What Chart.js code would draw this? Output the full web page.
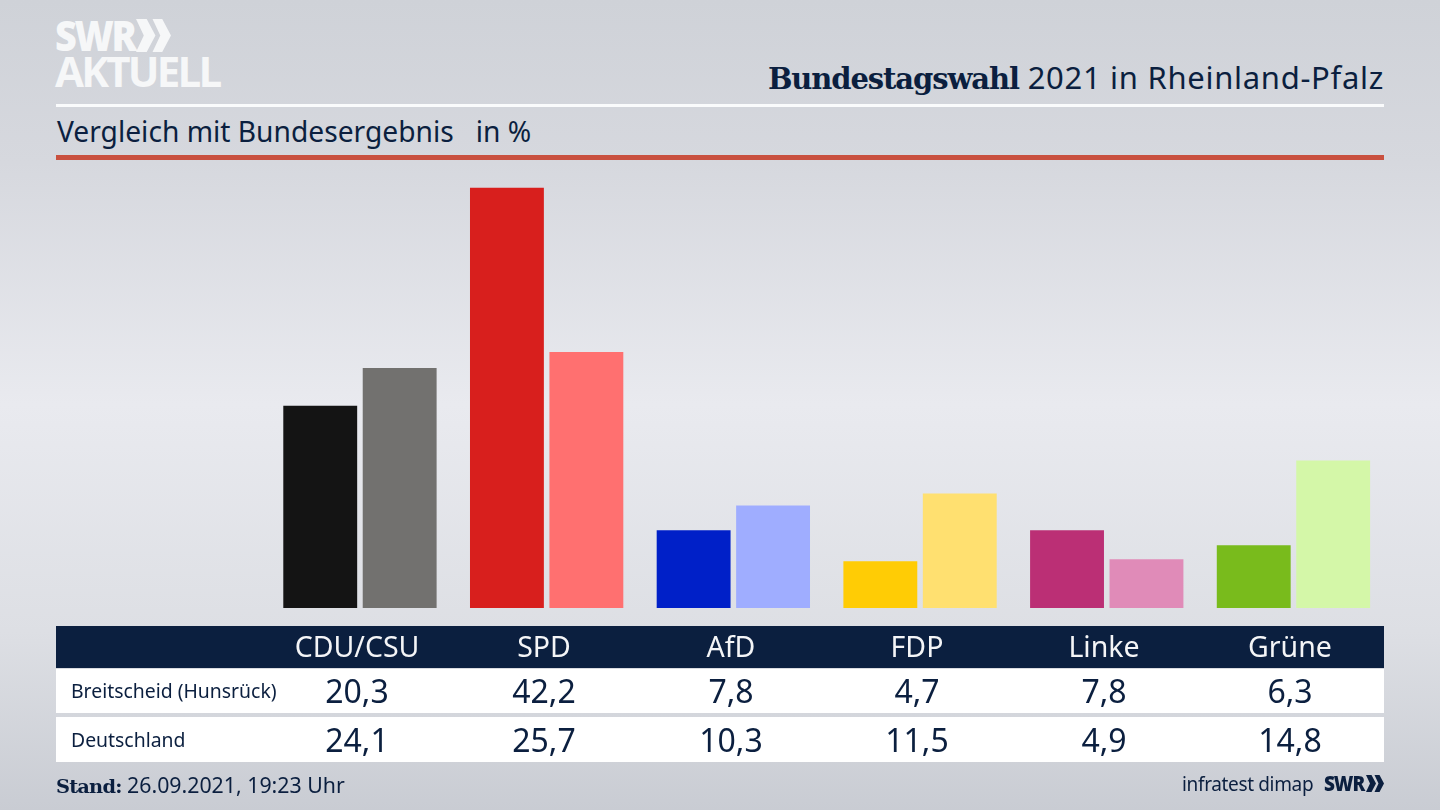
<!DOCTYPE html>
<html lang="de">
<head>
<meta charset="utf-8">
<title>Bundestagswahl 2021 in Rheinland-Pfalz</title>
<script src="https://cdn.jsdelivr.net/npm/chart.js@4"></script>
<style>
  html, body { margin: 0; padding: 0; }
  body {
    width: 1440px; height: 810px; position: relative; overflow: hidden;
    background: linear-gradient(180deg, #cfd2d8 0%, #d6d8de 20%, #e9eaef 50%, #dddfe4 78%, #c9ccd3 100%);
    font-family: "Noto Sans", sans-serif; color: #0b1f3f;
  }
  #bar-chart { position: absolute; left: 0; top: 0; }
  .abs { position: absolute; white-space: nowrap; }
  .rule { position: absolute; left: 56px; width: 1328px; }
  .logo { color: #f6f7f8; font-family: "Open Sans", sans-serif; font-weight: 800; line-height: 1; transform-origin: left top; }
  .band { position: absolute; left: 56px; width: 1328px; }
  .cell { position: absolute; transform: translateX(-50%); white-space: nowrap; text-align: center; }
  .rowlabel { position: absolute; left: 71px; font-size: 19.4px; white-space: nowrap; }
</style>
</head>
<body>
<div class="abs logo" style="left:55px;top:14px;font-size:42px;letter-spacing:-2.5px;transform:scaleX(.9)">SWR</div>
<svg class="abs" style="left:136px;top:19px" width="35" height="33" viewBox="0 0 36 34">
  <path d="M0 0h11l9 17-9 17H0l8-17zM17 0h10l9 17-9 17H17l8-17z" fill="#f6f7f8"/>
</svg>
<div class="abs logo" style="left:55px;top:50px;font-size:42px;letter-spacing:-2.8px;font-weight:700">AKTUELL</div>

<div class="abs" style="right:56px;top:56px;font-size:31px;letter-spacing:.7px"><span style="font-family:'DejaVu Serif';font-weight:700;font-size:29px;letter-spacing:-1.1px">Bundestagswahl</span> 2021 in Rheinland-Pfalz</div>
<div class="rule" style="top:104px;height:3px;background:#fafbfc"></div>
<div class="abs" style="left:57px;top:112px;font-size:28.2px;white-space:pre">Vergleich mit Bundesergebnis   in %</div>
<div class="rule" style="top:155px;height:5px;background:#c9503f"></div>

<canvas id="bar-chart"></canvas>

<div class="band" style="top:626px;height:42px;background:#0b1f3f"></div>
<div class="band" style="top:669px;height:44px;background:#fff"></div>
<div class="band" style="top:717px;height:45px;background:#fff"></div>
<div id="table"></div>

<div class="abs" style="left:56px;top:770px;font-size:21.3px"><span style="font-family:'DejaVu Serif';font-weight:700;font-size:19.4px;letter-spacing:-.8px">Stand:</span> 26.09.2021, 19:23 Uhr</div>
<div class="abs" style="left:1182px;top:771px;font-size:19px;letter-spacing:-.35px">infratest dimap</div>
<div class="abs" style="left:1324px;top:770px;font-family:'Open Sans';font-weight:800;font-size:21px;letter-spacing:-1.2px;line-height:27px;transform:scaleX(.9);transform-origin:left top">SWR</div>
<svg class="abs" style="left:1366px;top:775px" width="18" height="17" viewBox="0 0 36 34">
  <path d="M0 0h11l9 17-9 17H0l8-17zM17 0h10l9 17-9 17H17l8-17z" fill="#0b1f3f"/>
</svg>

<script>
const parties = ["CDU/CSU", "SPD", "AfD", "FDP", "Linke", "Grüne"];
const rowLabels = ["Breitscheid (Hunsrück)", "Deutschland"];
const breitscheid = [20.3, 42.2, 7.8, 4.7, 7.8, 6.3];
const deutschland = [24.1, 25.7, 10.3, 11.5, 4.9, 14.8];
const strongColors = ["#141414", "#d81f1d", "#0020c8", "#ffcc05", "#bb2f75", "#79bb1c"];
const paleColors = ["#72716f", "#ff7070", "#9fadff", "#ffe070", "#e08bb8", "#d4f7a8"];

// table under the bars
const tableEl = document.getElementById("table");
const colX = [357, 544, 731, 917, 1104, 1290];
const deNum = (v) => v.toFixed(1).replace(".", ",");

function addCell(text, x, top, size, color) {
  const el = document.createElement("div");
  el.className = "cell";
  el.textContent = text;
  el.style.left = x + "px";
  el.style.top = top + "px";
  el.style.fontSize = size + "px";
  el.style.color = color;
  tableEl.appendChild(el);
}

parties.forEach((name, i) => {
  addCell(name, colX[i], 627, 28.5, "#f4f5f7");
  addCell(deNum(breitscheid[i]), colX[i], 669, 32, "#0b1f3f");
  addCell(deNum(deutschland[i]), colX[i], 718, 32, "#0b1f3f");
});

rowLabels.forEach((name, i) => {
  const el = document.createElement("div");
  el.className = "rowlabel";
  el.textContent = name;
  el.style.top = (i === 0 ? 677 : 726) + "px";
  tableEl.appendChild(el);
});

//
const data = {
  labels: parties,
  datasets: [
    { label: rowLabels[0], data: breitscheid, backgroundColor: strongColors },
    { label: rowLabels[1], data: deutschland, backgroundColor: paleColors },
  ],
};

//
const config = {
  type: "bar",
  data: data,
  options: {
    responsive: false,
    animation: false,
    categoryPercentage: 0.851,
    barPercentage: 0.93,
    layout: { padding: { left: 266.6, right: 53.2, top: 110, bottom: 202 } },
    plugins: { legend: { display: false }, tooltip: { enabled: false } },
    scales: {
      x: { display: false },
      y: { display: false, min: 0, max: 50 },
    },
  },
};

//
const ctx = document.getElementById("bar-chart");
ctx.width = 1440;
ctx.height = 810;
new Chart(ctx, config);
</script>
</body>
</html>
